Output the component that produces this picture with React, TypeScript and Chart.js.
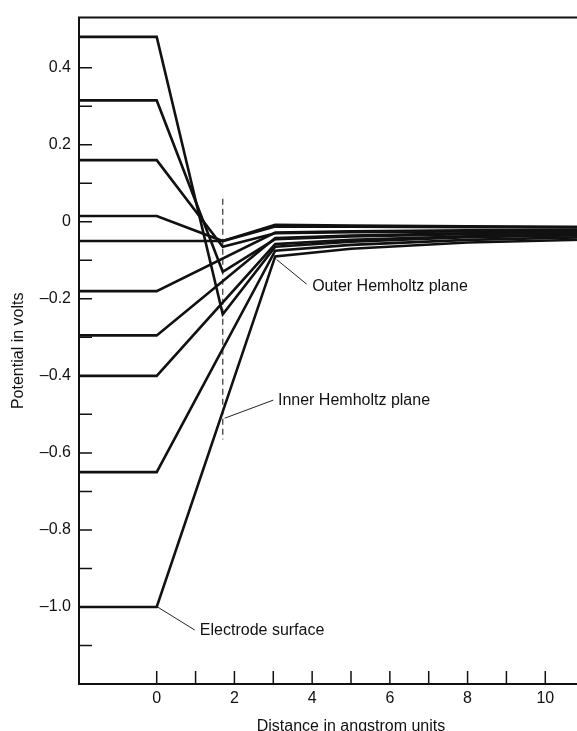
import { useEffect, useRef } from 'react';
import { Chart, registerables } from 'chart.js';

Chart.register(...registerables);

const FONT = '"Liberation Sans", Arial, Helvetica, sans-serif';
const INK = '#111';

// Distance from the electrode (angstrom) at which each profile has a vertex
const DIST = [-2, 0, 1.7, 3.05, 5, 8, 12];

// Potential (volts) of each profile at the distances above; null = no vertex there
const P_048 = [0.48, 0.48, -0.24, -0.065, -0.052, -0.04, -0.033];
const P_0315 = [0.315, 0.315, -0.13, -0.045, -0.038, -0.032, -0.028];
const P_016 = [0.16, 0.16, -0.065, -0.03, -0.027, -0.025, -0.023];
const P_0015 = [0.015, 0.015, -0.05, -0.012, -0.013, -0.014, -0.015];
const P_M005 = [-0.05, -0.05, -0.05, -0.008, -0.01, -0.012, -0.014];
const P_M018 = [-0.18, -0.18, null, -0.028, -0.025, -0.022, -0.02];
const P_M0295 = [-0.295, -0.295, null, -0.042, -0.036, -0.03, -0.026];
const P_M040 = [-0.4, -0.4, null, -0.058, -0.047, -0.038, -0.032];
const P_M065 = [-0.65, -0.65, null, -0.075, -0.06, -0.047, -0.038];
const P_M100 = [-1.0, -1.0, null, -0.09, -0.07, -0.054, -0.044];

const PROFILES = [P_048, P_0315, P_016, P_0015, P_M005, P_M018, P_M0295, P_M040, P_M065, P_M100];

// Inner Helmholtz plane marker
const IHP_X = 1.7;
const IHP_SPAN = [0.06, -0.565];

// Axis ticks
const X_TICKS = [0, 2, 4, 6, 8, 10, 12];
const X_MINOR = [1, 3, 5, 7, 9, 11];
const Y_TICKS = [-1.0, -0.8, -0.6, -0.4, -0.2, 0, 0.2, 0.4];
const Y_MINOR = [-1.1, -0.9, -0.7, -0.5, -0.3, -0.1, 0.1, 0.3];

// Labelled call-outs: leader from a point on the curves to the label
const CALLOUTS = [
  { text: 'Outer Hemholtz plane', from: [3.085, -0.098], to: [3.86, -0.162], label: [4.0, -0.169] },
  { text: 'Inner Hemholtz plane', from: [1.75, -0.51], to: [3.0, -0.463], label: [3.12, -0.463] },
  { text: 'Electrode surface', from: [0.02, -1.0], to: [0.98, -1.06], label: [1.11, -1.062] },
];

const frameAndNotes = {
  id: 'frameAndNotes',
  afterDraw(chart: any) {
    const { ctx, chartArea, scales } = chart;
    const { left, top, right, bottom } = chartArea;
    const x = scales.x;
    const y = scales.y;
    ctx.save();
    ctx.strokeStyle = INK;
    ctx.lineWidth = 2;
    ctx.beginPath();
    ctx.moveTo(left - 1, top);
    ctx.lineTo(right, top);
    ctx.lineTo(right, bottom);
    ctx.stroke();

    // inward tick marks
    ctx.lineWidth = 1.5;
    ctx.beginPath();
    for (const v of [...Y_TICKS, ...Y_MINOR]) {
      const py = y.getPixelForValue(v);
      ctx.moveTo(left, py);
      ctx.lineTo(left + 13, py);
    }
    for (const v of [...X_TICKS, ...X_MINOR]) {
      const px = x.getPixelForValue(v);
      ctx.moveTo(px, bottom);
      ctx.lineTo(px, bottom - 13);
    }
    ctx.stroke();

    // call-outs
    ctx.lineWidth = 1;
    ctx.strokeStyle = '#222';
    ctx.fillStyle = '#111';
    ctx.font = `16px ${FONT}`;
    ctx.textBaseline = 'middle';
    ctx.textAlign = 'left';
    for (const c of CALLOUTS) {
      ctx.beginPath();
      ctx.moveTo(x.getPixelForValue(c.from[0]), y.getPixelForValue(c.from[1]));
      ctx.lineTo(x.getPixelForValue(c.to[0]), y.getPixelForValue(c.to[1]));
      ctx.stroke();
      ctx.fillText(c.text, x.getPixelForValue(c.label[0]), y.getPixelForValue(c.label[1]));
    }
    ctx.restore();
  },
};

function yLabel(v: number) {
  if (Math.abs(v) < 1e-9) return '0';
  return (v < 0 ? '\u2013' : '') + Math.abs(v).toFixed(1);
}

export default function App() {
  const ref = useRef<HTMLCanvasElement>(null);

  useEffect(() => {
    const datasets: any[] = PROFILES.map((p) => ({
      data: DIST.map((d, i) => ({ x: d, y: p[i] })).filter((pt) => pt.y !== null),
      borderColor: INK,
      borderWidth: 2.6,
      pointRadius: 0,
      fill: false,
    }));
    datasets.push({
      data: [
        { x: IHP_X, y: IHP_SPAN[0] },
        { x: IHP_X, y: IHP_SPAN[1] },
      ],
      borderColor: '#333',
      borderWidth: 1.2,
      borderDash: [6, 4],
      pointRadius: 0,
      fill: false,
    });

    const chart = new Chart(ref.current!, {
      type: 'line',
      data: { datasets },
      plugins: [frameAndNotes],
      options: {
        animation: false,
        responsive: false,
        devicePixelRatio: 1,
        layout: { padding: { top: 15, right: 17, left: 0, bottom: 0 } },
        plugins: { legend: { display: false }, tooltip: { enabled: false } },
        elements: {
          line: { tension: 0, borderJoinStyle: 'miter', borderCapStyle: 'butt' },
          point: { radius: 0 },
        },
        scales: {
          x: {
            type: 'linear',
            min: -2,
            max: 12,
            afterBuildTicks: (s: any) => {
              s.ticks = X_TICKS.map((v) => ({ value: v }));
            },
            afterFit: (s: any) => {
              s.height = 61;
            },
            grid: { drawOnChartArea: false, drawTicks: false },
            border: { color: INK, width: 2 },
            ticks: {
              color: INK,
              font: { family: FONT, size: 16 },
              padding: 5,
              maxRotation: 0,
              autoSkip: false,
              callback: (v: any) => String(v),
            },
            title: {
              display: true,
              text: 'Distance in angstrom units',
              color: INK,
              font: { family: FONT, size: 16 },
              padding: { top: 0, bottom: 9 },
            },
          },
          y: {
            type: 'linear',
            min: -1.2,
            max: 0.53,
            afterBuildTicks: (s: any) => {
              s.ticks = Y_TICKS.map((v) => ({ value: v }));
            },
            afterFit: (s: any) => {
              s.width = 79;
            },
            grid: { drawOnChartArea: false, drawTicks: false },
            border: { color: INK, width: 2 },
            ticks: {
              color: INK,
              font: { family: FONT, size: 16 },
              padding: 8,
              autoSkip: false,
              callback: (v: any) => yLabel(Number(v)),
            },
            title: {
              display: true,
              text: 'Potential in volts',
              color: INK,
              font: { family: FONT, size: 16 },
              padding: { top: 9, bottom: 0 },
            },
          },
        },
      } as any,
    });
    return () => chart.destroy();
  }, []);

  return (
    <div
      style={{
        position: 'fixed',
        left: 0,
        top: 0,
        width: 577,
        height: 731,
        overflow: 'hidden',
        background: '#fff',
      }}
    >
      <canvas ref={ref} width={640} height={745} style={{ display: 'block' }} />
    </div>
  );
}
